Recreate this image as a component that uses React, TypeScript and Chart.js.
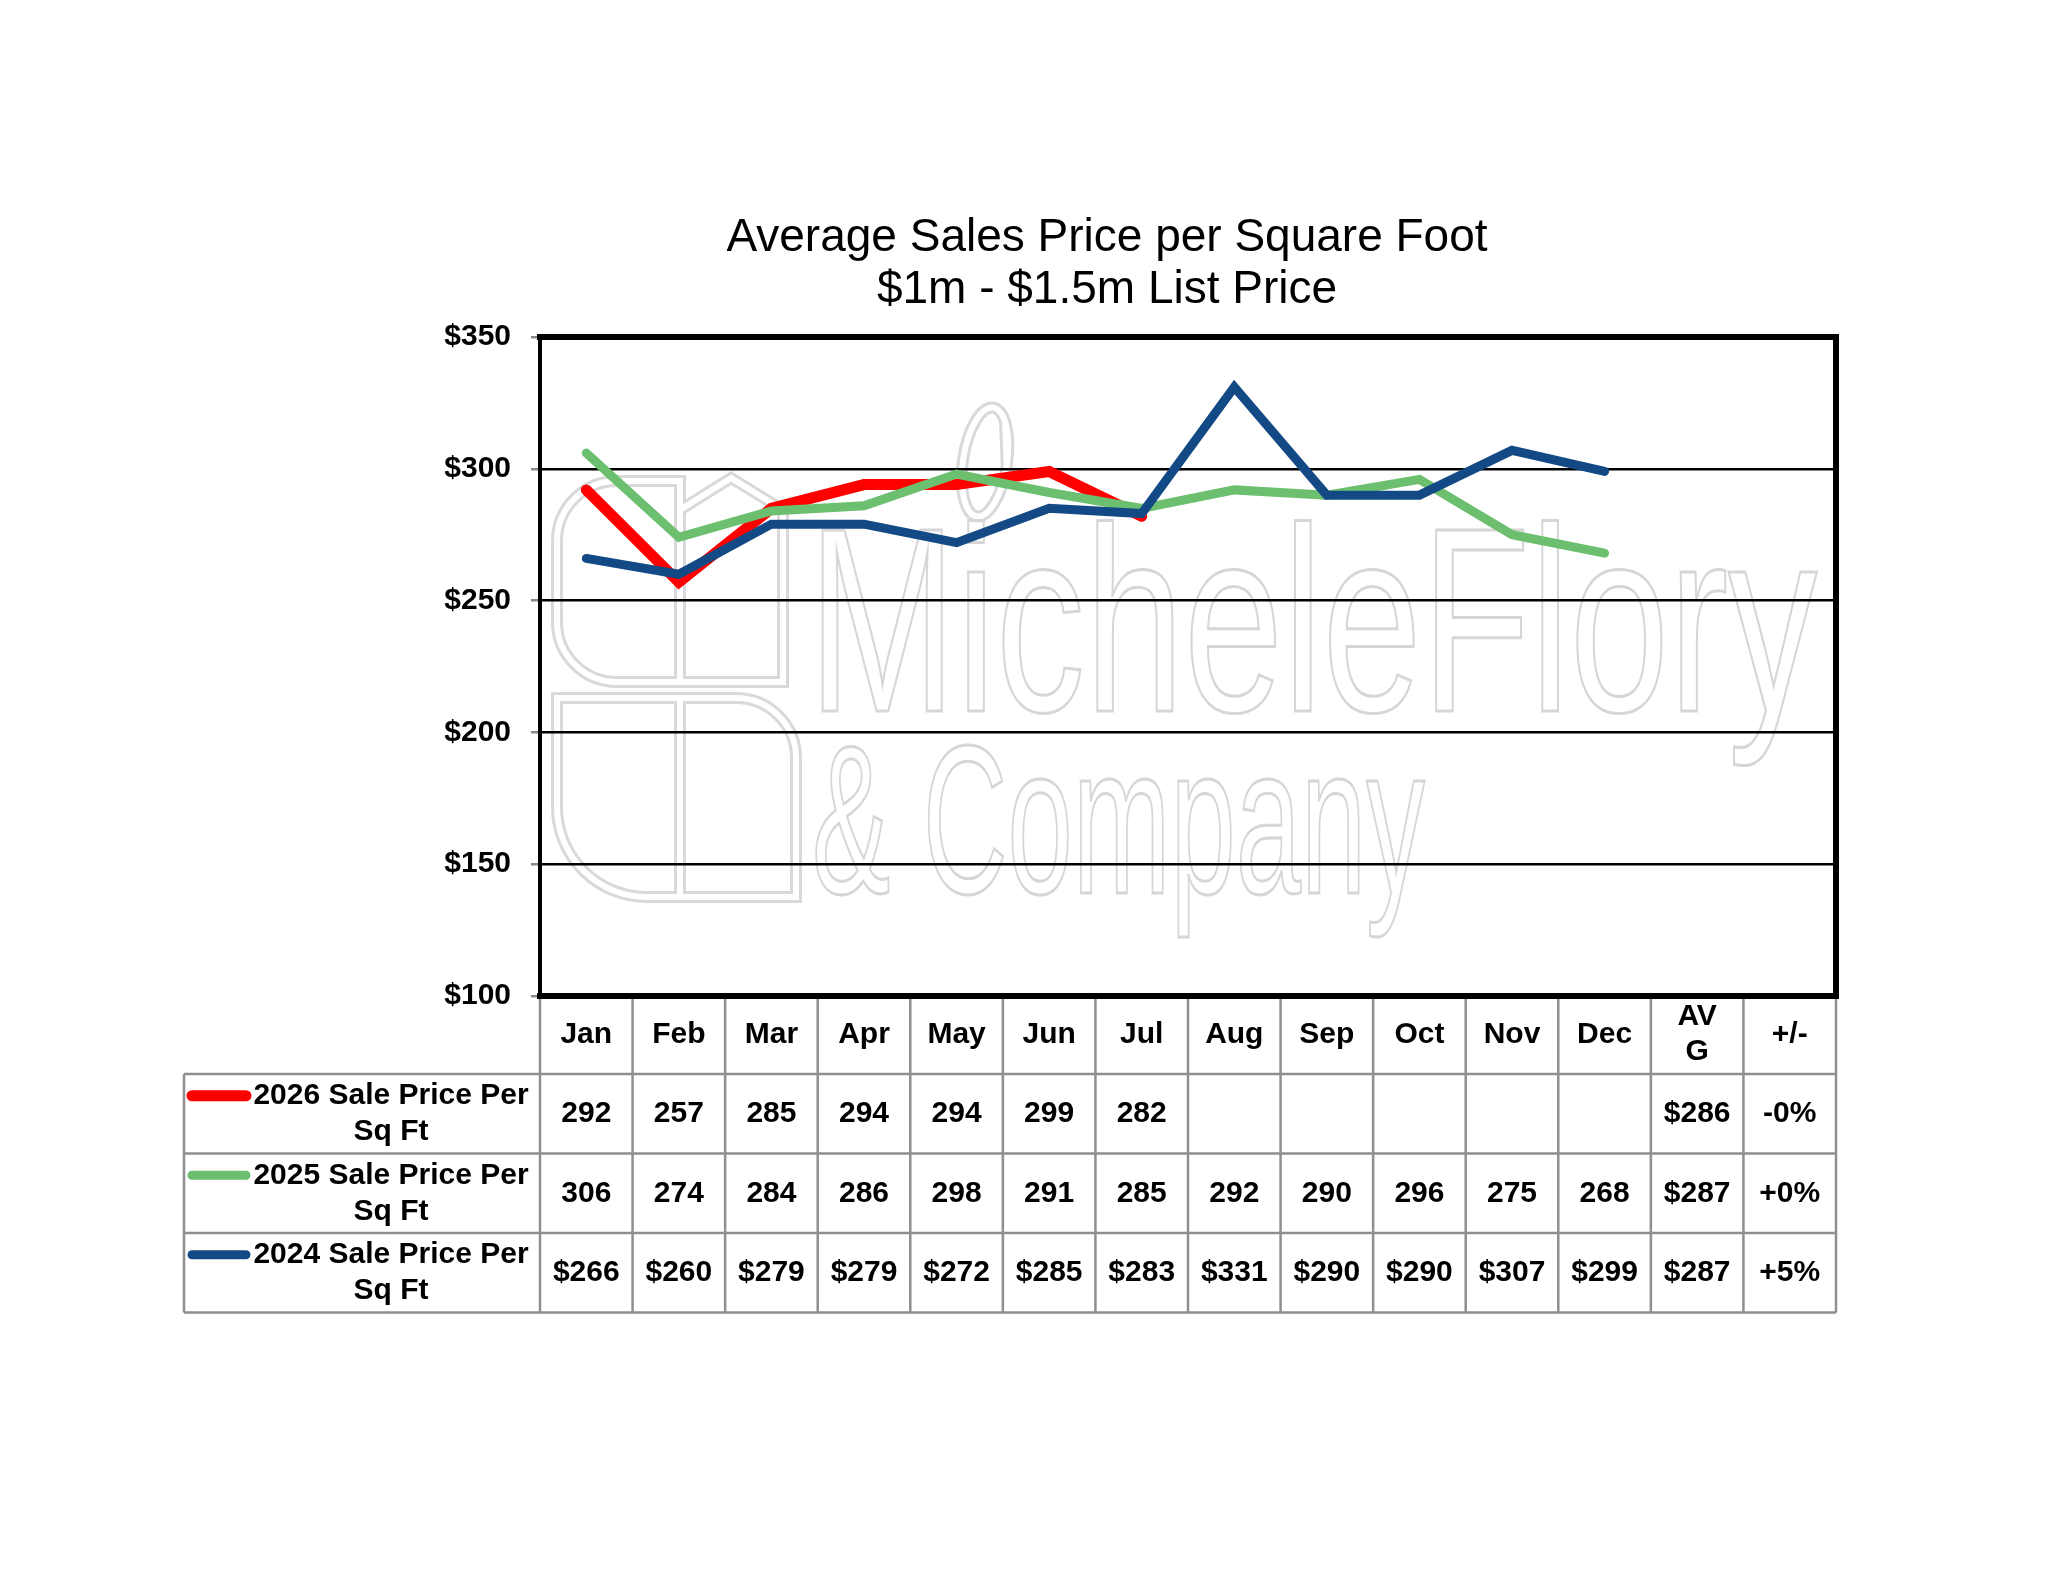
import { Chart, registerables } from "chart.js";
import React, { useEffect, useRef } from "react";

Chart.register(...registerables);

// categories along the x axis (the last two are table-only columns)
const months = ["Jan", "Feb", "Mar", "Apr", "May", "Jun", "Jul", "Aug", "Sep", "Oct", "Nov", "Dec"];
const extraColumns = ["AVG", "+/-"];
const categories = [...months, ...extraColumns];

// series values
const sales2026 = [292, 257, 285, 294, 294, 299, 282];
const sales2025 = [306, 274, 284, 286, 298, 291, 285, 292, 290, 296, 275, 268];
const sales2024 = [266, 260, 279, 279, 272, 285, 283, 331, 290, 290, 307, 299];

const seriesNames = ["2026 Sale Price Per Sq Ft", "2025 Sale Price Per Sq Ft", "2024 Sale Price Per Sq Ft"];
const seriesColors = ["#FF0000", "#6BBF6F", "#134A85"];
const seriesWidths = [11, 9, 9];
const valuePrefix = ["", "", "$"];
const avgValues = ["$286", "$287", "$287"];
const changeValues = ["-0%", "+0%", "+5%"];

const yMin = 100;
const yMax = 350;
const yStep = 50;

const titleLines = ["Average Sales Price per Square Foot", "$1m - $1.5m List Price"];
const watermarkLines = ["MicheleFlory", "& Company"];

const FONT = '"Liberation Sans", Arial, Helvetica, sans-serif';

const App: React.FC = () => {
  const canvasRef = useRef<HTMLCanvasElement | null>(null);
  const chartRef = useRef<Chart | null>(null);

  useEffect(() => {
    document.body.style.margin = "0";
    if (chartRef.current) chartRef.current.destroy();
    if (!canvasRef.current) return;

    const allSeries = [sales2026, sales2025, sales2024];

    // faint outlined logo behind the plot
    const watermarkPlugin = {
      id: "watermark",
      beforeDraw(chart: any) {
        const ctx: CanvasRenderingContext2D = chart.ctx;
        ctx.save();
        // logo shapes, drawn as double outlines
        const shapes = (c: CanvasRenderingContext2D) => {
          c.beginPath();
          c.roundRect(557, 481, 123, 201, [60, 0, 0, 60]);
          c.moveTo(680, 682);
          c.lineTo(680, 510);
          c.lineTo(731, 478);
          c.lineTo(783, 510);
          c.lineTo(783, 682);
          c.closePath();
          c.roundRect(557, 698, 123, 199, [0, 0, 0, 90]);
          c.roundRect(680, 698, 116, 199, [0, 60, 0, 0]);
          c.moveTo(1005, 420);
          c.ellipse(985, 462, 22, 55, 0.15, 0, Math.PI * 2);
        };
        ctx.strokeStyle = "#d9d9d9";
        ctx.lineWidth = 12;
        shapes(ctx);
        ctx.stroke();
        ctx.strokeStyle = "#ffffff";
        ctx.lineWidth = 6;
        shapes(ctx);
        ctx.stroke();

        ctx.strokeStyle = "#d6d6d6";
        ctx.lineWidth = 3;
        ctx.textAlign = "left";
        ctx.textBaseline = "alphabetic";
        ctx.save();
        ctx.translate(808, 711);
        ctx.scale(0.677, 1);
        ctx.font = `263px ${FONT}`;
        ctx.strokeText(watermarkLines[0], 0, 0);
        ctx.restore();
        ctx.save();
        ctx.translate(812, 893);
        ctx.scale(0.556, 1);
        ctx.font = `211px ${FONT}`;
        ctx.strokeText(watermarkLines[1], 0, 0);
        ctx.restore();
        ctx.restore();
      },
    };

    // heavy frame around the plot area
    const framePlugin = {
      id: "frame",
      afterDatasetsDraw(chart: any) {
        const { ctx, chartArea } = chart;
        const { left, right, top, bottom } = chartArea;
        ctx.save();
        ctx.strokeStyle = "#000";
        ctx.lineCap = "square";
        ctx.lineWidth = 6;
        ctx.beginPath();
        ctx.moveTo(left, top);
        ctx.lineTo(right, top);
        ctx.lineTo(right, bottom);
        ctx.lineTo(left, bottom);
        ctx.stroke();
        ctx.lineWidth = 4;
        ctx.beginPath();
        ctx.moveTo(left, top);
        ctx.lineTo(left, bottom);
        ctx.stroke();
        ctx.restore();
      },
    };

    // title and data table under the plot
    const tablePlugin = {
      id: "dataTable",
      afterDraw(chart: any) {
        const ctx: CanvasRenderingContext2D = chart.ctx;
        const { left, right, bottom } = chart.chartArea;
        const xScale = chart.scales.x;
        const colW = (right - left) / categories.length;
        const tableLeft = 184;
        const headerBottom = bottom + 78;
        const rowH = 79.5;
        const tableBottom = headerBottom + rowH * allSeries.length;

        ctx.save();
        // title
        ctx.fillStyle = "#000";
        ctx.textAlign = "center";
        ctx.textBaseline = "middle";
        ctx.font = `46px ${FONT}`;
        ctx.fillText(titleLines[0], 1107, 238);
        ctx.fillText(titleLines[1], 1107, 290);

        // grid
        ctx.strokeStyle = "#8f8f8f";
        ctx.lineWidth = 2.5;
        ctx.beginPath();
        for (let i = 0; i <= categories.length; i++) {
          const x = left + i * colW;
          ctx.moveTo(x, bottom + 3);
          ctx.lineTo(x, tableBottom);
        }
        for (let r = 0; r <= allSeries.length; r++) {
          const y = headerBottom + r * rowH;
          ctx.moveTo(tableLeft, y);
          ctx.lineTo(right, y);
        }
        ctx.moveTo(tableLeft, headerBottom);
        ctx.lineTo(tableLeft, tableBottom);
        ctx.stroke();

        // header
        ctx.font = `bold 30px ${FONT}`;
        ctx.fillStyle = "#000";
        const headerMid = bottom + 39;
        categories.forEach((c, i) => {
          const x = xScale.getPixelForValue(i);
          if (c === "AVG") {
            ctx.fillText("AV", x, headerMid - 18);
            ctx.fillText("G", x, headerMid + 17);
          } else {
            ctx.fillText(c, x, headerMid);
          }
        });

        // rows
        allSeries.forEach((vals, r) => {
          const mid = headerBottom + r * rowH + rowH / 2;
          const line1 = mid - 18;
          const line2 = mid + 18;
          // legend key
          ctx.strokeStyle = seriesColors[r];
          ctx.lineWidth = seriesWidths[r];
          ctx.lineCap = "round";
          ctx.beginPath();
          ctx.moveTo(tableLeft + 8, line1);
          ctx.lineTo(246, line1);
          ctx.stroke();
          // legend text
          const name = seriesNames[r];
          const cut = name.lastIndexOf(" Sq");
          ctx.fillStyle = "#000";
          ctx.textAlign = "center";
          ctx.fillText(name.slice(0, cut), 391, line1);
          ctx.fillText(name.slice(cut + 1), 391, line2);
          // values
          vals.forEach((v, i) => {
            ctx.fillText(valuePrefix[r] + v, xScale.getPixelForValue(i), mid);
          });
          ctx.fillText(avgValues[r], xScale.getPixelForValue(months.length), mid);
          ctx.fillText(changeValues[r], xScale.getPixelForValue(months.length + 1), mid);
        });
        ctx.restore();
      },
    };

    chartRef.current = new Chart(canvasRef.current, {
      type: "line",
      data: {
        labels: categories,
        datasets: allSeries.map((vals, i) => ({
          label: seriesNames[i],
          data: vals,
          borderColor: seriesColors[i],
          backgroundColor: seriesColors[i],
          borderWidth: seriesWidths[i],
          pointRadius: 0,
          borderCapStyle: "round" as const,
          borderJoinStyle: "miter" as const,
          tension: 0,
          order: allSeries.length - i,
        })),
      },
      options: {
        responsive: false,
        devicePixelRatio: 1,
        animation: false,
        layout: { padding: { top: 337, bottom: 587, left: 0, right: 212 } },
        plugins: {
          legend: { display: false },
          tooltip: { enabled: false },
          title: { display: false },
        },
        scales: {
          x: { display: false, offset: true },
          y: {
            min: yMin,
            max: yMax,
            ticks: {
              stepSize: yStep,
              color: "#000",
              padding: 20,
              font: { family: FONT, size: 30, weight: "bold" },
              callback: (v: any) => "$" + v,
            },
            grid: { color: "#000", lineWidth: 2.5, tickColor: "#888", tickLength: 9 },
            border: { display: true, color: "#888", width: 2 },
            afterFit: (scale: any) => {
              scale.width = 540;
            },
          },
        },
      },
      plugins: [watermarkPlugin, framePlugin, tablePlugin],
    });

    return () => {
      if (chartRef.current) {
        chartRef.current.destroy();
        chartRef.current = null;
      }
    };
  }, []);

  return (
    <div style={{ position: "absolute", left: 0, top: 0, width: 2048, height: 1583, background: "#fff" }}>
      <canvas ref={canvasRef} width={2048} height={1583} style={{ display: "block" }}></canvas>
    </div>
  );
};

export default App;
